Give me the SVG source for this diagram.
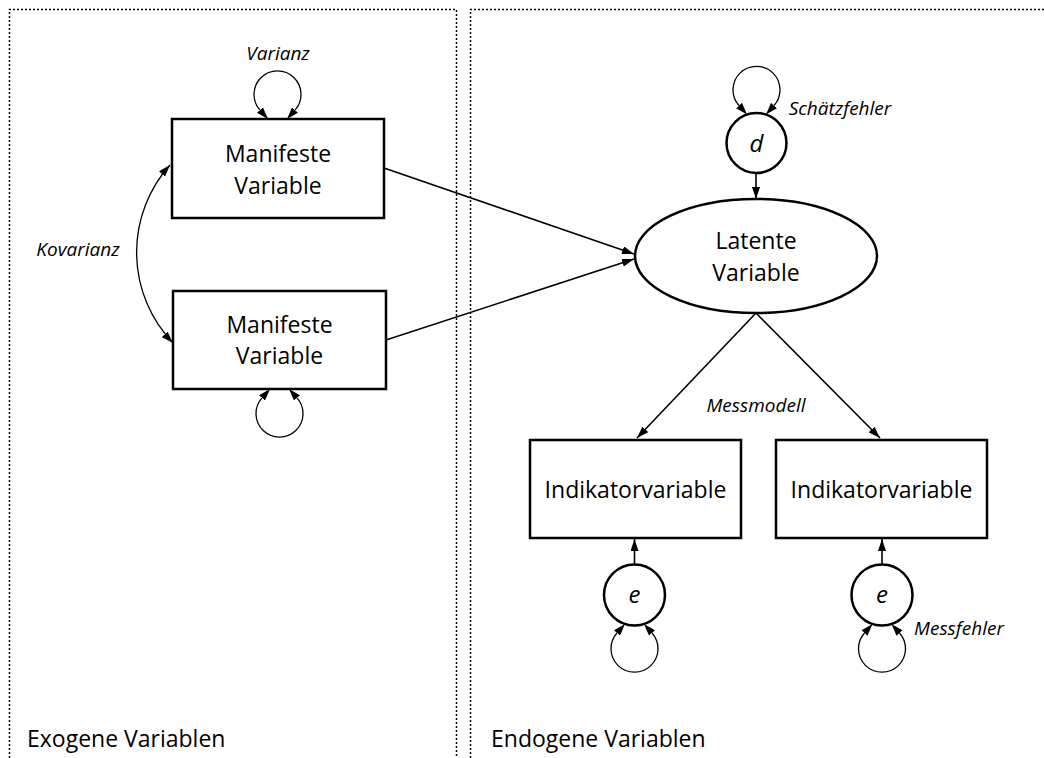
<svg xmlns="http://www.w3.org/2000/svg" width="1044" height="758" viewBox="0 0 1044 758">
  <defs>
    <!-- arrowhead whose tip sits on the path end -->
    <marker id="arrow" viewBox="0 0 12 8" refX="12" refY="4" markerWidth="12" markerHeight="8" markerUnits="userSpaceOnUse" orient="auto-start-reverse">
      <path d="M0,0 L12,4 L0,8 z" fill="#000"/>
    </marker>
    <!-- arrowhead whose base sits on the path end, tip continuing along the tangent -->
    <marker id="arrow-out" viewBox="0 0 12 8" refX="0" refY="4" markerWidth="12" markerHeight="8" markerUnits="userSpaceOnUse" orient="auto-start-reverse">
      <path d="M0,0 L12,4 L0,8 z" fill="#000"/>
    </marker>
    <style>
      .panel { fill: none; stroke: #000; stroke-width: 1.5; stroke-dasharray: 2 2; }
      .node { fill: #fff; stroke: #000; stroke-width: 2.5; }
      .edge { fill: none; stroke: #000; stroke-width: 1.6; }
      .loop { fill: none; stroke: #000; stroke-width: 1.3; }
      .label { font-family: "Open Sans", "Noto Sans", sans-serif; font-size: 23px; fill: #000; text-anchor: middle; }
      .note { font-family: "Open Sans", "Noto Sans", sans-serif; font-size: 19px; font-style: italic; fill: #000; text-anchor: middle; }
      .sym { font-family: "Open Sans", "Noto Sans", sans-serif; font-size: 24px; font-style: italic; fill: #000; text-anchor: middle; }
      .panel-title { font-family: "Open Sans", "Noto Sans", sans-serif; font-size: 23px; fill: #000; }
    </style>
  </defs>
  <rect width="1044" height="758" fill="#fff"/>

  <!-- panels -->
  <g id="panel-exogen">
    <path class="panel" d="M9.5,770 V9.5 H456.5 V770"/>
    <text class="panel-title" x="27" y="747">Exogene Variablen</text>
  </g>
  <g id="panel-endogen">
    <path class="panel" d="M470.5,770 V9.5 H1050"/>
    <text class="panel-title" x="491" y="747">Endogene Variablen</text>
  </g>

  <!-- connectors -->
  <g id="connectors">
    <path class="edge" d="M384,168 L634,254" marker-end="url(#arrow)"/>
    <path class="edge" d="M386,340 L634,259" marker-end="url(#arrow)"/>
    <path class="loop" d="M170,165 A131,131 0 0,0 173,343" marker-start="url(#arrow)" marker-end="url(#arrow)"/>
    <!-- variance loops -->
    <path class="loop" d="M260,110.1 A23.5,23.5 0 1,1 295,110.1" marker-start="url(#arrow-out)" marker-end="url(#arrow-out)"/>
    <path class="loop" d="M262,397.9 A23.5,23.5 0 1,0 297,397.9" marker-start="url(#arrow-out)" marker-end="url(#arrow-out)"/>
    <path class="loop" d="M739,105.5 A23.5,23.5 0 1,1 774,105.5" marker-start="url(#arrow-out)" marker-end="url(#arrow-out)"/>
    <path class="loop" d="M617,633 A23.5,23.5 0 1,0 652,633" marker-start="url(#arrow-out)" marker-end="url(#arrow-out)"/>
    <path class="loop" d="M864.5,633 A23.5,23.5 0 1,0 899.5,633" marker-start="url(#arrow-out)" marker-end="url(#arrow-out)"/>
    <!-- paths -->
    <path class="edge" d="M756,173 L756,199" marker-end="url(#arrow)"/>
    <path class="edge" d="M756,313 L637,438" marker-end="url(#arrow)"/>
    <path class="edge" d="M756,313 L880,438" marker-end="url(#arrow)"/>
    <path class="edge" d="M634.5,565 L634.5,539" marker-end="url(#arrow)"/>
    <path class="edge" d="M882,565 L882,539" marker-end="url(#arrow)"/>
    <text class="note" x="278" y="60">Varianz</text>
    <text class="note" x="78" y="256">Kovarianz</text>
    <text class="note" x="840" y="115">Schätzfehler</text>
    <text class="note" x="756" y="412">Messmodell</text>
    <text class="note" x="959" y="635">Messfehler</text>
  </g>

  <!-- nodes -->
  <g id="manifest-1">
    <rect class="node" x="172" y="119" width="212" height="99"/>
    <text class="label" x="278" y="162">Manifeste</text>
    <text class="label" x="278" y="194">Variable</text>
  </g>
  <g id="manifest-2">
    <rect class="node" x="173" y="291" width="213" height="98"/>
    <text class="label" x="279.5" y="333">Manifeste</text>
    <text class="label" x="279.5" y="364">Variable</text>
  </g>
  <g id="latent">
    <ellipse class="node" cx="756" cy="256" rx="121" ry="57"/>
    <text class="label" x="756" y="249">Latente</text>
    <text class="label" x="756" y="281">Variable</text>
  </g>
  <g id="error-d">
    <circle class="node" cx="756.5" cy="143" r="30"/>
    <text class="sym" x="756.5" y="152">d</text>
  </g>
  <g id="indicator-1">
    <rect class="node" x="530" y="440" width="211" height="98"/>
    <text class="label" x="635.5" y="498">Indikatorvariable</text>
  </g>
  <g id="indicator-2">
    <rect class="node" x="776" y="440" width="211" height="98"/>
    <text class="label" x="881.5" y="498">Indikatorvariable</text>
  </g>
  <g id="error-e1">
    <circle class="node" cx="634.5" cy="595" r="30.5"/>
    <text class="sym" x="634.5" y="603">e</text>
  </g>
  <g id="error-e2">
    <circle class="node" cx="882" cy="595" r="30.5"/>
    <text class="sym" x="882" y="603">e</text>
  </g>
</svg>
